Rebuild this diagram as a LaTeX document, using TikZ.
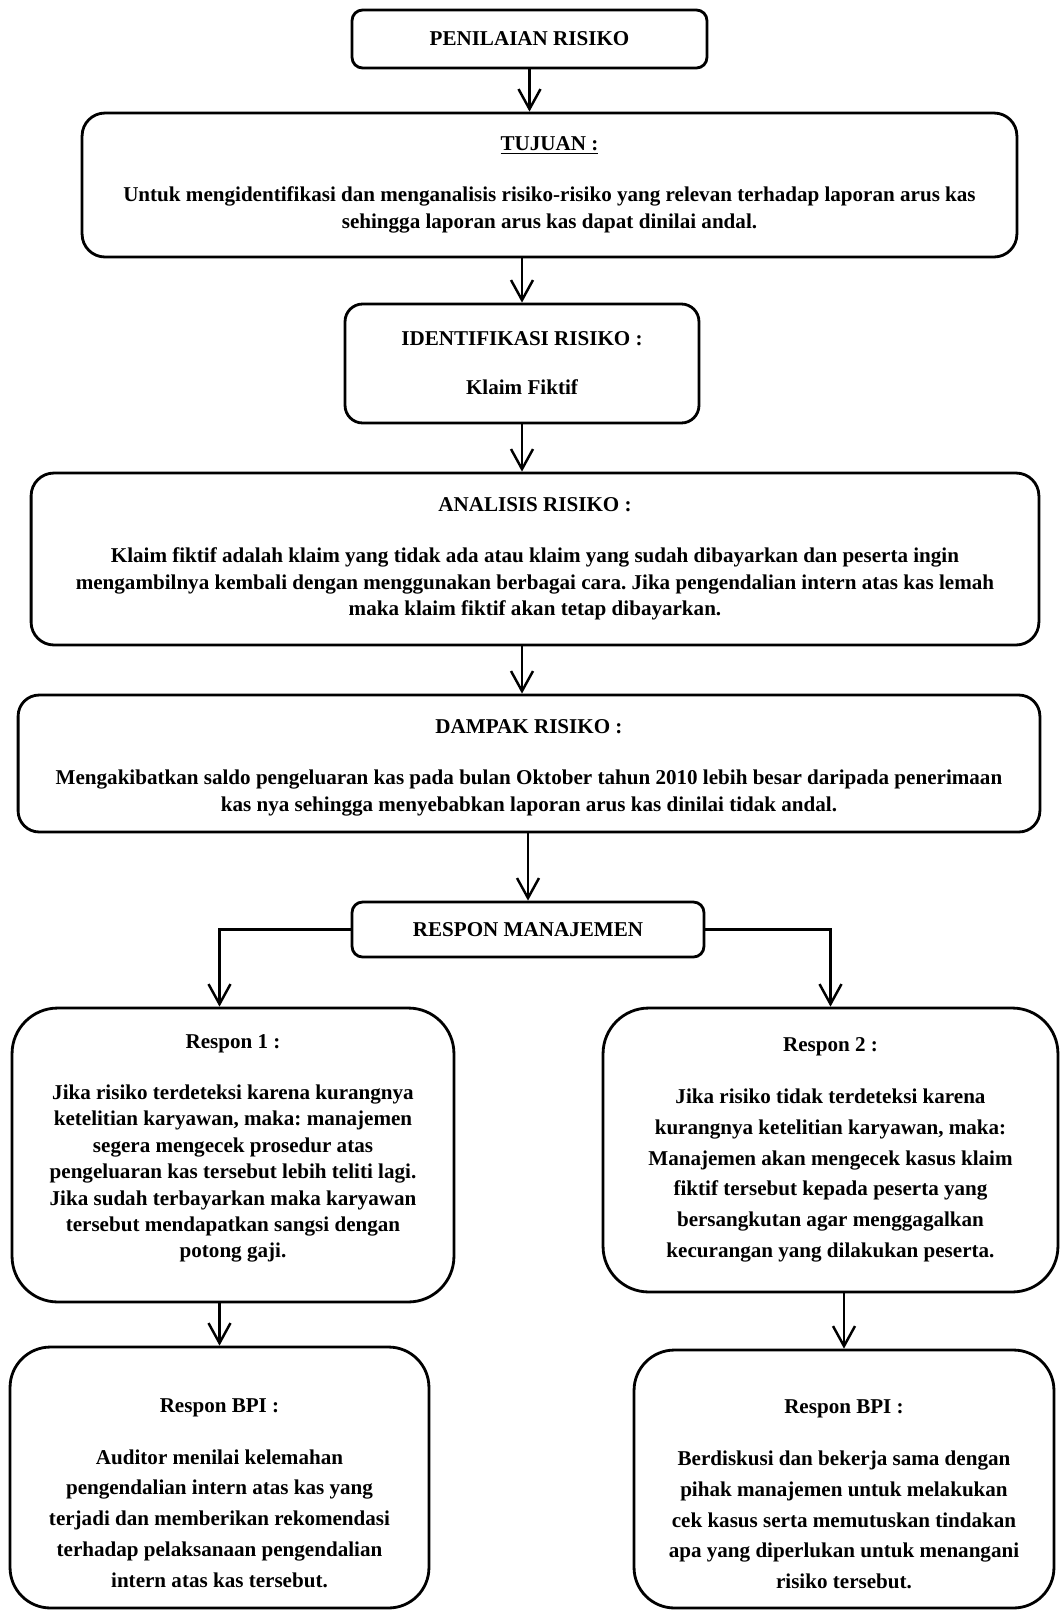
\documentclass[tikz,border=0pt]{standalone}
\usepackage{fontspec}
\setmainfont{Liberation Serif}
\usetikzlibrary{arrows.meta}
\frenchspacing

\newcommand{\topgap}[1]{\rule{0pt}{#1}}

\tikzset{
  box/.style={draw, line width=1.6pt, rounded corners=#1, align=center, inner sep=0pt,
    font=\bfseries\fontsize{12}{15}\selectfont},
  box/.default=6pt,
  wide/.style={font=\bfseries\fontsize{12}{17.5}\selectfont},
  arr/.style={line width=1.4pt, -{Straight Barb[length=4mm,width=4.4mm,line width=1.4pt]}}
}

\begin{document}
\begin{tikzpicture}[x=0.02cm,y=-0.02cm]
  \useasboundingbox (0,0) rectangle (1064,1610);

  \node[box, minimum width=7.1cm, minimum height=1.16cm] (pen) at (529.5,39) {PENILAIAN RISIKO};
  \node[box=13pt, minimum width=18.7cm, minimum height=2.88cm] (tuj) at (549.5,185)
    {\underline{TUJUAN :}\\[14pt]
     Untuk mengidentifikasi dan menganalisis risiko-risiko yang relevan terhadap laporan arus kas\\
     sehingga laporan arus kas dapat dinilai andal.};
  \node[box=10pt, minimum width=7.08cm, minimum height=2.38cm] (ide) at (522,363.5)
    {IDENTIFIKASI RISIKO :\\[13pt] Klaim Fiktif};

  \node[box=13pt, minimum width=20.16cm, minimum height=3.44cm] (ana) at (535,559)
    {ANALISIS RISIKO :\\[14pt]
     Klaim fiktif adalah klaim yang tidak ada atau klaim yang sudah dibayarkan dan peserta ingin\\
     mengambilnya kembali dengan menggunakan berbagai cara. Jika pengendalian intern atas kas lemah\\
     maka klaim fiktif akan tetap dibayarkan.};
  \node[box=12pt, minimum width=20.44cm, minimum height=2.74cm] (dam) at (529,763.5)
    {\topgap{13pt}DAMPAK RISIKO :\\[14pt]
     Mengakibatkan saldo pengeluaran kas pada bulan Oktober tahun 2010 lebih besar daripada penerimaan\\
     kas nya sehingga menyebabkan laporan arus kas dinilai tidak andal.};
  \node[box, minimum width=7.04cm, minimum height=1.1cm] (res) at (528,929.5) {RESPON MANAJEMEN};

  \node[box=26pt, minimum width=8.84cm, minimum height=5.88cm] (r1) at (233,1155)
    {Respon 1 :\\[14pt]
     Jika risiko terdeteksi karena kurangnya\\
     ketelitian karyawan, maka: manajemen\\
     segera mengecek prosedur atas\\
     pengeluaran kas tersebut lebih teliti lagi.\\
     Jika sudah terbayarkan maka karyawan\\
     tersebut mendapatkan sangsi dengan\\
     potong gaji.\rule[-10pt]{0pt}{1pt}};
  \node[box=26pt, wide, minimum width=9.1cm, minimum height=5.68cm] (r2) at (830.5,1150)
    {Respon 2 :\\[12pt]
     Jika risiko tidak terdeteksi karena\\
     kurangnya ketelitian karyawan, maka:\\
     Manajemen akan mengecek kasus klaim\\
     fiktif tersebut kepada peserta yang\\
     bersangkutan agar menggagalkan\\
     kecurangan yang dilakukan peserta.};

  \node[box=23pt, wide, minimum width=8.38cm, minimum height=5.22cm] (b1) at (219.5,1477.5)
    {\topgap{25.5pt}Respon BPI :\\[12pt]
     Auditor menilai kelemahan\\
     pengendalian intern atas kas yang\\
     terjadi dan memberikan rekomendasi\\
     terhadap pelaksanaan pengendalian\\
     intern atas kas tersebut.};
  \node[box=23pt, wide, minimum width=8.4cm, minimum height=5.16cm] (b2) at (844,1479)
    {\topgap{25.5pt}Respon BPI :\\[12pt]
     Berdiskusi dan bekerja sama dengan\\
     pihak manajemen untuk melakukan\\
     cek kasus serta memutuskan tindakan\\
     apa yang diperlukan untuk menangani\\
     risiko tersebut.};

  \draw[arr] (pen.south) -- (pen.south |- tuj.north);
  \draw[arr] (tuj.south -| ide.north) -- (ide.north);
  \draw[arr] (ide.south) -- (ide.south |- ana.north);
  \draw[arr] (ana.south -| ide.south) -- (dam.north -| ide.south);
  \draw[arr] (dam.south -| res.north) -- (res.north);
  \draw[arr] (res.west) -| (b1.north |- r1.north);
  \draw[arr] (res.east) -| (r2.north);
  \draw[arr] (r1.south -| b1.north) -- (b1.north);
  \draw[arr] (r2.south -| b2.north) -- (b2.north);
\end{tikzpicture}
\end{document}
